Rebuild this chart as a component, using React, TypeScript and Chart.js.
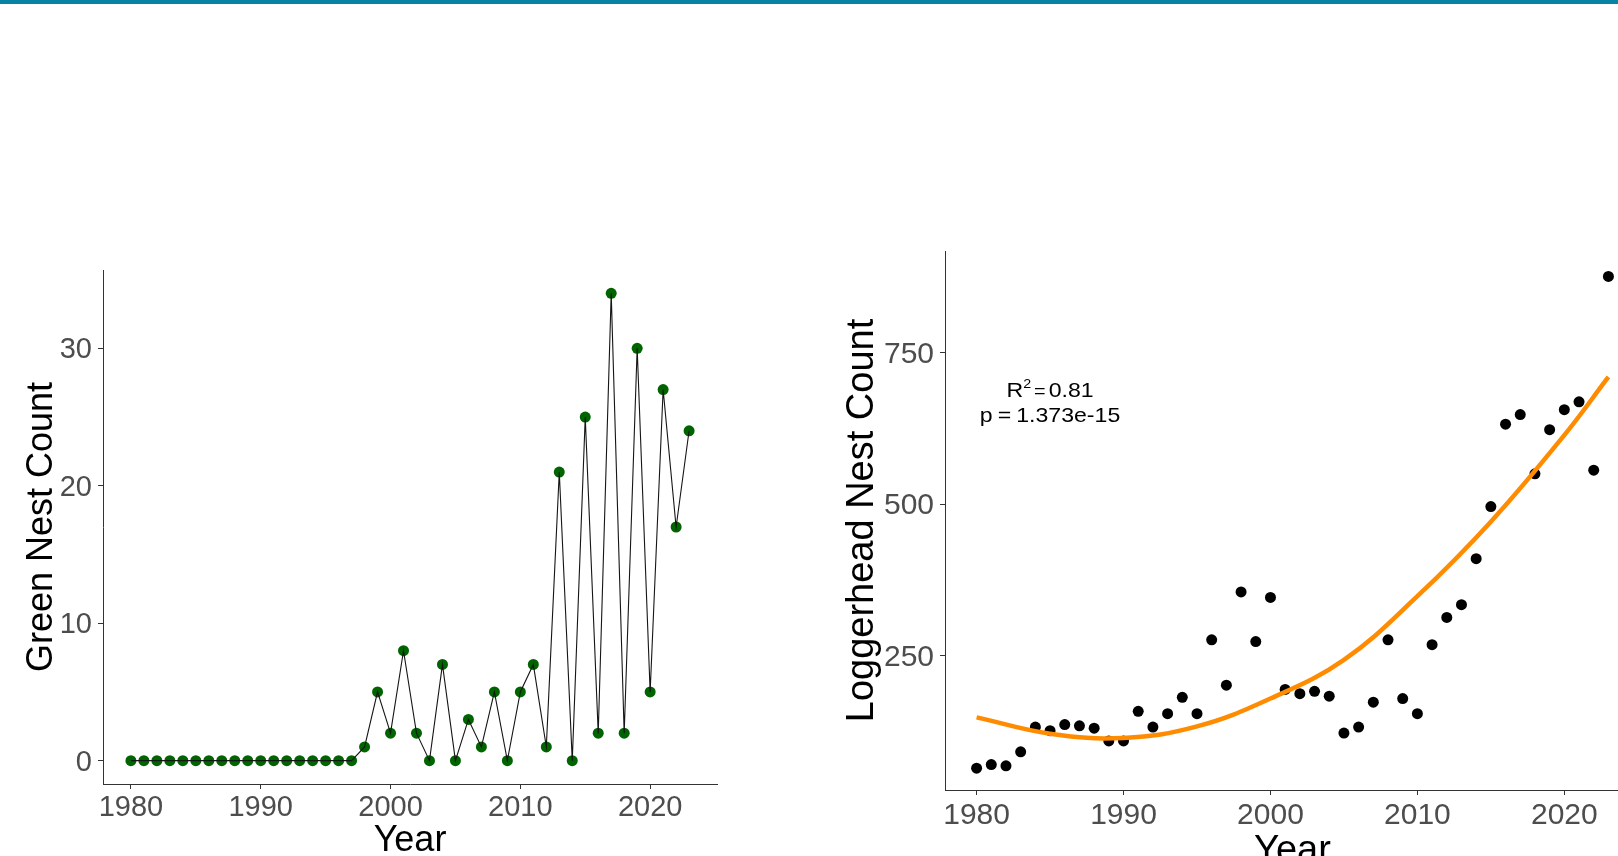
import React, { useEffect, useRef } from 'react';
import { Chart, registerables } from 'chart.js';

Chart.register(...registerables);

// ---------- data ----------
const years = [
  1980, 1981, 1982, 1983, 1984, 1985, 1986, 1987, 1988, 1989,
  1990, 1991, 1992, 1993, 1994, 1995, 1996, 1997, 1998, 1999,
  2000, 2001, 2002, 2003, 2004, 2005, 2006, 2007, 2008, 2009,
  2010, 2011, 2012, 2013, 2014, 2015, 2016, 2017, 2018, 2019,
  2020, 2021, 2022, 2023,
];

const greenCounts = [
  0, 0, 0, 0, 0, 0, 0, 0, 0, 0,
  0, 0, 0, 0, 0, 0, 0, 0, 1, 5,
  2, 8, 2, 0, 7, 0, 3, 1, 5, 0,
  5, 7, 1, 21, 0, 25, 2, 34, 2, 30,
  5, 27, 17, 24,
];

const loggerheadCounts = [
  64, 70, 68, 91, 132, 126, 136, 134, 130, 109,
  109, 158, 132, 154, 181, 154, 276, 201, 355, 273,
  346, 194, 187, 191, 183, 122, 132, 173, 276, 179,
  154, 268, 313, 334, 410, 496, 632, 648, 550, 623,
  656, 669, 556, 876,
];

// quadratic trend line
const fitYears = [1980, 1985, 1990, 1995, 2000, 2005, 2010, 2015, 2020, 2023];
const fitValues = [148, 121, 114, 133, 179, 243, 348, 471, 614, 710];

const xTicks = [1980, 1990, 2000, 2010, 2020];
const greenYTicks = [0, 10, 20, 30];
const loggerheadYTicks = [250, 500, 750];

const xLabel = 'Year';
const greenYLabel = 'Green Nest Count';
const loggerheadYLabel = 'Loggerhead Nest Count';

const r2Text = '0.81';
const pText = '1.373e-15';
const annotationYear = 1985;
const annotationCount = 669;

// axis ranges (ggplot 5% expansion)
const xRange = [1977.85, 2025.15];
const greenRange = [-1.7, 35.7];
const loggerheadRange = [28, 918];

// ---------- style ----------
const FONT = "'Liberation Sans', Arial, Helvetica, sans-serif";
const AXIS_COLOR = '#333333';
const TICK_TEXT = '#4D4D4D';

function makeScales(o: {
  xMin: number; xMax: number; yMin: number; yMax: number;
  yTicks: number[]; yTitle: string; yWidth: number; xHeight: number; xTickPad: number;
  tickSize: number; xTitleSize: number; yTitleSize: number; yTitlePad: number;
}) {
  const gridCommon = {
    display: true,
    drawOnChartArea: false,
    drawTicks: true,
    tickLength: 5,
    tickColor: AXIS_COLOR,
    tickWidth: 1,
  };
  const border = { display: true, color: AXIS_COLOR, width: 1 };
  const tickFont = { family: FONT, size: o.tickSize, lineHeight: 1 };
  return {
    x: {
      type: 'linear',
      min: o.xMin,
      max: o.xMax,
      grid: gridCommon,
      border,
      afterBuildTicks: (s: any) => {
        s.ticks = xTicks.map((v) => ({ value: v }));
      },
      afterFit: (s: any) => {
        s.height = o.xHeight;
      },
      ticks: {
        color: TICK_TEXT,
        font: tickFont,
        padding: o.xTickPad,
        maxRotation: 0,
        autoSkip: false,
        callback: (v: any) => String(v),
      },
      title: {
        display: true,
        text: xLabel,
        color: '#000000',
        font: { family: FONT, size: o.xTitleSize, lineHeight: 1 },
        padding: { top: 0, bottom: 0 },
      },
    },
    y: {
      type: 'linear',
      min: o.yMin,
      max: o.yMax,
      grid: gridCommon,
      border,
      afterBuildTicks: (s: any) => {
        s.ticks = o.yTicks.map((v) => ({ value: v }));
      },
      afterFit: (s: any) => {
        s.width = o.yWidth;
      },
      ticks: {
        color: TICK_TEXT,
        font: tickFont,
        padding: 6,
        labelOffset: 2,
        autoSkip: false,
        callback: (v: any) => String(v),
      },
      title: {
        display: true,
        text: o.yTitle,
        color: '#000000',
        font: { family: FONT, size: o.yTitleSize, lineHeight: 1 },
        padding: { top: o.yTitlePad, bottom: 0 },
      },
    },
  };
}

const annotationPlugin = {
  id: 'regressionLabel',
  afterDatasetsDraw(chart: any) {
    const { ctx, scales } = chart;
    const px = scales.x.getPixelForValue(annotationYear);
    const py = scales.y.getPixelForValue(annotationCount);
    const sx = 1.1;
    const main = `21px ${FONT}`;
    const drawLine = (
      pieces: { t: string; f: string; dy: number; gap: number }[],
      baseline: number,
    ) => {
      let total = 0;
      const widths = pieces.map((p) => {
        ctx.font = p.f;
        const w = ctx.measureText(p.t).width * sx;
        total += w + p.gap;
        return w;
      });
      let x = px - total / 2;
      pieces.forEach((p, i) => {
        x += p.gap;
        ctx.save();
        ctx.font = p.f;
        ctx.translate(x, baseline + p.dy);
        ctx.scale(sx, 1);
        ctx.fillText(p.t, 0, 0);
        ctx.restore();
        x += widths[i];
      });
    };
    ctx.save();
    ctx.fillStyle = '#000000';
    ctx.textAlign = 'left';
    ctx.textBaseline = 'alphabetic';
    drawLine(
      [
        { t: 'R', f: main, dy: 0, gap: 0 },
        { t: '2', f: `13px ${FONT}`, dy: -9, gap: 0 },
        { t: '=', f: `18px ${FONT}`, dy: 0, gap: 3 },
        { t: r2Text, f: main, dy: 0, gap: 3 },
      ],
      py - 5,
    );
    drawLine(
      [
        { t: 'p', f: main, dy: 0, gap: 0 },
        { t: '=', f: main, dy: 0, gap: 5 },
        { t: pText, f: main, dy: 0, gap: 5 },
      ],
      py + 20,
    );
    ctx.restore();
  },
};

function toPoints(xs: number[], ys: number[]) {
  return xs.map((x, i) => ({ x, y: ys[i] }));
}

export default function App() {
  const leftRef = useRef<HTMLCanvasElement>(null);
  const rightRef = useRef<HTMLCanvasElement>(null);

  useEffect(() => {
    const left = new Chart(leftRef.current as HTMLCanvasElement, {
      type: 'scatter',
      data: {
        datasets: [
          {
            type: 'line',
            data: toPoints(years, greenCounts),
            borderColor: '#151515',
            borderWidth: 1.1,
            pointRadius: 0,
            tension: 0,
            order: 0,
          } as any,
          {
            type: 'scatter',
            data: toPoints(years, greenCounts),
            pointRadius: 5.5,
            pointBackgroundColor: '#006400',
            pointBorderWidth: 0,
            borderWidth: 0,
            order: 1,
          } as any,
        ],
      },
      options: {
        responsive: false,
        maintainAspectRatio: false,
        animation: false,
        devicePixelRatio: 1,
        layout: { padding: { top: 270, right: 43, bottom: 0, left: 0 } },
        plugins: { legend: { display: false }, tooltip: { enabled: false } },
        events: [],
        scales: makeScales({
          xMin: xRange[0], xMax: xRange[1],
          yMin: greenRange[0], yMax: greenRange[1],
          yTicks: greenYTicks, yTitle: greenYLabel,
          yWidth: 103, xHeight: 75, xTickPad: 4,
          tickSize: 29, xTitleSize: 36, yTitleSize: 36, yTitlePad: 24,
        }) as any,
      },
    });

    const right = new Chart(rightRef.current as HTMLCanvasElement, {
      type: 'scatter',
      data: {
        datasets: [
          {
            type: 'line',
            data: toPoints(fitYears, fitValues),
            borderColor: '#FF8C00',
            borderWidth: 4.5,
            pointRadius: 0,
            tension: 0.4,
            order: 0,
          } as any,
          {
            type: 'scatter',
            data: toPoints(years, loggerheadCounts),
            pointRadius: 5.5,
            pointBackgroundColor: '#000000',
            pointBorderWidth: 0,
            borderWidth: 0,
            order: 1,
          } as any,
        ],
      },
      options: {
        responsive: false,
        maintainAspectRatio: false,
        animation: false,
        devicePixelRatio: 1,
        layout: { padding: { top: 251, right: 10, bottom: 0, left: 0 } },
        plugins: { legend: { display: false }, tooltip: { enabled: false } },
        events: [],
        scales: makeScales({
          xMin: xRange[0], xMax: xRange[1],
          yMin: loggerheadRange[0], yMax: loggerheadRange[1],
          yTicks: loggerheadYTicks, yTitle: loggerheadYLabel,
          yWidth: 125, xHeight: 81, xTickPad: 5.5,
          tickSize: 30, xTitleSize: 38, yTitleSize: 38, yTitlePad: 24,
        }) as any,
      },
      plugins: [annotationPlugin as any],
    });

    return () => {
      left.destroy();
      right.destroy();
    };
  }, []);

  return (
    <div
      style={{
        position: 'absolute',
        left: 0,
        top: 0,
        width: 1618,
        height: 856,
        overflow: 'hidden',
        background: '#ffffff',
      }}
    >
      <canvas
        ref={leftRef}
        width={760}
        height={859}
        style={{ position: 'absolute', left: 0, top: 0, width: 760, height: 859 }}
      />
      <canvas
        ref={rightRef}
        width={830}
        height={871}
        style={{ position: 'absolute', left: 820, top: 0, width: 830, height: 871 }}
      />
      <div
        style={{
          position: 'absolute',
          left: 0,
          top: 0,
          width: 1618,
          height: 4,
          background: '#0983A4',
        }}
      />
    </div>
  );
}
